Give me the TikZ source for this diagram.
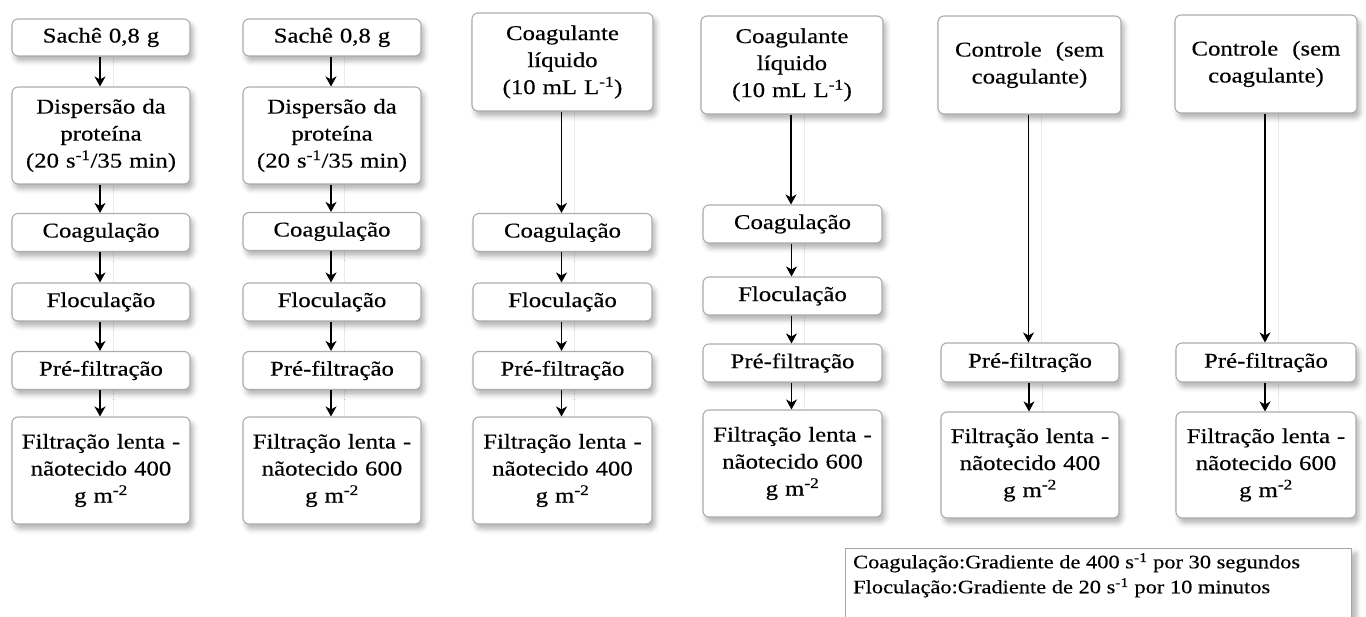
\documentclass[tikz,border=0pt]{standalone}
\usepackage{fontspec}
\setmainfont{Liberation Serif}[FakeStretch=1.18,FakeBold=0.35]
\usetikzlibrary{arrows.meta,shadows.blur}
\pgfdeclarelayer{bg}
\pgfsetlayers{bg,main}
\tikzset{
  box/.style={draw=gray!65, line width=1.1pt, rounded corners=6pt, fill=white,
    align=center, inner sep=0pt, text width=#1, font=\fontsize{21}{27}\selectfont,
    blur shadow={shadow xshift=3pt, shadow yshift=-5pt, shadow blur radius=5pt, shadow opacity=30}},
  box/.default=172pt,
  flow/.style={line width=1.2pt, -{Stealth[length=10pt,width=11pt,inset=3pt]}},
  ghost/.style={draw=black!8, line width=1pt}
}
\begin{document}
\begin{tikzpicture}[x=1pt,y=-1pt]
\useasboundingbox (0,0) rectangle (1366,617);
% column 1
\node[box, minimum width=178pt, minimum height=37pt] (s1) at (101,37.5) {Sachê 0,8 g};
\node[box, minimum width=178pt, minimum height=97pt] (d1) at (101,135.5) {Dispersão da\\proteína\\(20 s\textsuperscript{-1}/35 min)};
\node[box, minimum width=178pt, minimum height=38pt] (c1) at (101,232.5) {Coagulação};
\node[box, minimum width=178pt, minimum height=38pt] (f1) at (101,302) {Floculação};
\node[box, minimum width=178pt, minimum height=38pt] (p1) at (101,370.5) {Pré-filtração};
\node[box, minimum width=178pt, minimum height=107pt] (l1) at (101,470.5) {Filtração lenta -\\nãotecido 400\\g m\textsuperscript{-2}};
% column 2
\node[box, minimum width=178pt, minimum height=37pt] (s2) at (332,37.5) {Sachê 0,8 g};
\node[box, minimum width=178pt, minimum height=97pt] (d2) at (332,135.5) {Dispersão da\\proteína\\(20 s\textsuperscript{-1}/35 min)};
\node[box, minimum width=178pt, minimum height=38pt] (c2) at (332,231.5) {Coagulação};
\node[box, minimum width=178pt, minimum height=38pt] (f2) at (332,302) {Floculação};
\node[box, minimum width=178pt, minimum height=38pt] (p2) at (332,370.5) {Pré-filtração};
\node[box, minimum width=178pt, minimum height=107pt] (l2) at (332,470.5) {Filtração lenta -\\nãotecido 600\\g m\textsuperscript{-2}};
% column 3
\node[box, minimum width=181pt, minimum height=98pt] (t3) at (562.5,62) {Coagulante\\líquido\\(10 mL L\textsuperscript{-1})};
\node[box, minimum width=179pt, minimum height=38pt] (c3) at (562.5,232.5) {Coagulação};
\node[box, minimum width=179pt, minimum height=38pt] (f3) at (562.5,302) {Floculação};
\node[box, minimum width=179pt, minimum height=38pt] (p3) at (562.5,370.5) {Pré-filtração};
\node[box, minimum width=179pt, minimum height=107pt] (l3) at (562.5,470.5) {Filtração lenta -\\nãotecido 400\\g m\textsuperscript{-2}};
% column 4
\node[box, minimum width=182pt, minimum height=98pt] (t4) at (792,65) {Coagulante\\líquido\\(10 mL L\textsuperscript{-1})};
\node[box, minimum width=179pt, minimum height=38pt] (c4) at (792.5,224) {Coagulação};
\node[box, minimum width=179pt, minimum height=38pt] (f4) at (792.5,296) {Floculação};
\node[box, minimum width=179pt, minimum height=38pt] (p4) at (792.5,363) {Pré-filtração};
\node[box, minimum width=179pt, minimum height=107pt] (l4) at (792.5,463.5) {Filtração lenta -\\nãotecido 600\\g m\textsuperscript{-2}};
% column 5
\node[box, minimum width=183pt, minimum height=98pt] (t5) at (1029.5,65) {Controle\ \ (sem\\coagulante)};
\node[box, minimum width=178pt, minimum height=39pt] (p5) at (1030,362.5) {Pré-filtração};
\node[box, minimum width=178pt, minimum height=106pt] (l5) at (1030,465) {Filtração lenta -\\nãotecido 400\\g m\textsuperscript{-2}};
% column 6
\node[box, minimum width=182pt, minimum height=98pt] (t6) at (1266,64) {Controle\ \ (sem\\coagulante)};
\node[box, minimum width=180pt, minimum height=39pt] (p6) at (1266,362.5) {Pré-filtração};
\node[box, minimum width=180pt, minimum height=106pt] (l6) at (1266,465) {Filtração lenta -\\nãotecido 600\\g m\textsuperscript{-2}};
% legend
\node[draw=gray!70, line width=0.9pt, fill=white, anchor=north west, minimum width=506pt, minimum height=80pt, inner sep=0pt,
  blur shadow={shadow xshift=6pt, shadow yshift=-4pt, shadow blur radius=4pt, shadow opacity=25}] (leg) at (845,548) {};
\node[anchor=north west, align=left, inner sep=0pt, font=\fontsize{19}{25}\selectfont] (legtext) at ([xshift=8pt,yshift=-5pt]leg.north west)
  {Coagulação:Gradiente de 400 s\textsuperscript{-1} por 30 segundos\\Floculação:Gradiente de 20 s\textsuperscript{-1} por 10 minutos};
% connector shadows
\begin{pgfonlayer}{bg}
\foreach \a/\b in {s1/d1,d1/c1,c1/f1,f1/p1,p1/l1,s2/d2,d2/c2,c2/f2,f2/p2,p2/l2,t3/c3,c3/f3,f3/p3,p3/l3,t4/c4,c4/f4,f4/p4,p4/l4,t5/p5,p5/l5,t6/p6,p6/l6}
  \draw[ghost] ([xshift=12pt]\a.south) -- ([xshift=12pt]\a.south |- \b.north);
\end{pgfonlayer}
% connectors
\foreach \a/\b in {s1/d1,d1/c1,c1/f1,f1/p1,p1/l1,s2/d2,d2/c2,c2/f2,f2/p2,p2/l2,t3/c3,c3/f3,f3/p3,p3/l3,t4/c4,c4/f4,f4/p4,p4/l4,t5/p5,p5/l5,t6/p6,p6/l6}
  \draw[flow] ([xshift=-1pt]\a.south) -- ([xshift=-1pt]\a.south |- \b.north);
\end{tikzpicture}
\end{document}
